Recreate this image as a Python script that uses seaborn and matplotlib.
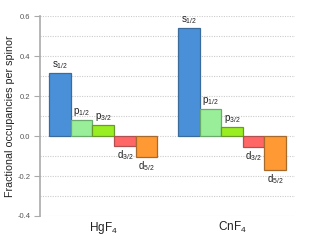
import matplotlib
matplotlib.use("Agg")
import matplotlib.pyplot as plt
import seaborn as sns
import pandas as pd
import numpy as np

molecules = ["HgF$_4$", "CnF$_4$"]
orbitals = ["s$_{1/2}$", "p$_{1/2}$", "p$_{3/2}$", "d$_{3/2}$", "d$_{5/2}$"]
hgf4_values = [0.313, 0.080, 0.053, -0.050, -0.103]
cnf4_values = [0.540, 0.135, 0.045, -0.055, -0.170]
fill_colors = ["#4a90d9", "#99ee99", "#99ee22", "#ff6666", "#ff9933"]
edge_colors = ["#3a6b9a", "#6aaa6a", "#6a9a2a", "#b05050", "#a86a2a"]
y_ticks = [-0.4, -0.2, 0.0, 0.2, 0.4, 0.6]

rows = []
for m, vals in zip(molecules, [hgf4_values, cnf4_values]):
    for o, v in zip(orbitals, vals):
        rows.append({"molecule": m, "orbital": o, "value": v})
df = pd.DataFrame(rows)

sns.set_style("white")
plt.rcParams["font.family"] = ["Liberation Sans", "DejaVu Sans"]
plt.rcParams["mathtext.default"] = "regular"

fig = plt.figure(figsize=(3.11, 2.40), dpi=100)
ax = fig.add_axes([0.129, 0.10, 0.82, 0.833])

for y in np.arange(-0.4, 0.61, 0.1):
    ax.axhline(y, color="#cccccc", lw=0.8, ls=(0, (1, 1.2)), zorder=0)

sns.barplot(data=df, x="molecule", y="value", hue="orbital", order=molecules,
            hue_order=orbitals, palette=fill_colors, width=0.84, gap=0,
            saturation=1, legend=False, ax=ax, zorder=2)

# seaborn adds patches hue by hue
for hi in range(len(orbitals)):
    for mi in range(len(molecules)):
        p = ax.patches[hi * len(molecules) + mi]
        p.set_edgecolor(edge_colors[hi])
        p.set_linewidth(0.9)
        x = p.get_x() + p.get_width() / 2
        h = p.get_height()
        if h >= 0:
            ax.text(x, h + 0.012, orbitals[hi], ha="center", va="bottom",
                    fontsize=7, color="#222222")
        else:
            ax.text(x, h - 0.012, orbitals[hi], ha="center", va="top",
                    fontsize=7, color="#222222")

ax.set_xlim(-0.49, 1.49)
ax.set_ylim(-0.4, 0.6)
ax.set_yticks(y_ticks)
ax.set_yticklabels([f"{t:.1f}" for t in y_ticks], fontsize=5.5, color="#555555")
ax.tick_params(axis="y", length=4, width=0.8, color="#aaaaaa", pad=3, left=True)
ax.tick_params(axis="x", length=0, labelsize=8.5, colors="#222222", pad=3)
ax.set_xlabel("")
ax.set_ylabel("Fractional occupancies per spinor", fontsize=7.7, color="#222222", labelpad=2)
for s in ["top", "right", "bottom"]:
    ax.spines[s].set_visible(False)
ax.spines["left"].set_color("#aaaaaa")
ax.spines["left"].set_linewidth(1.2)

fig.savefig("out.png", dpi=100)
